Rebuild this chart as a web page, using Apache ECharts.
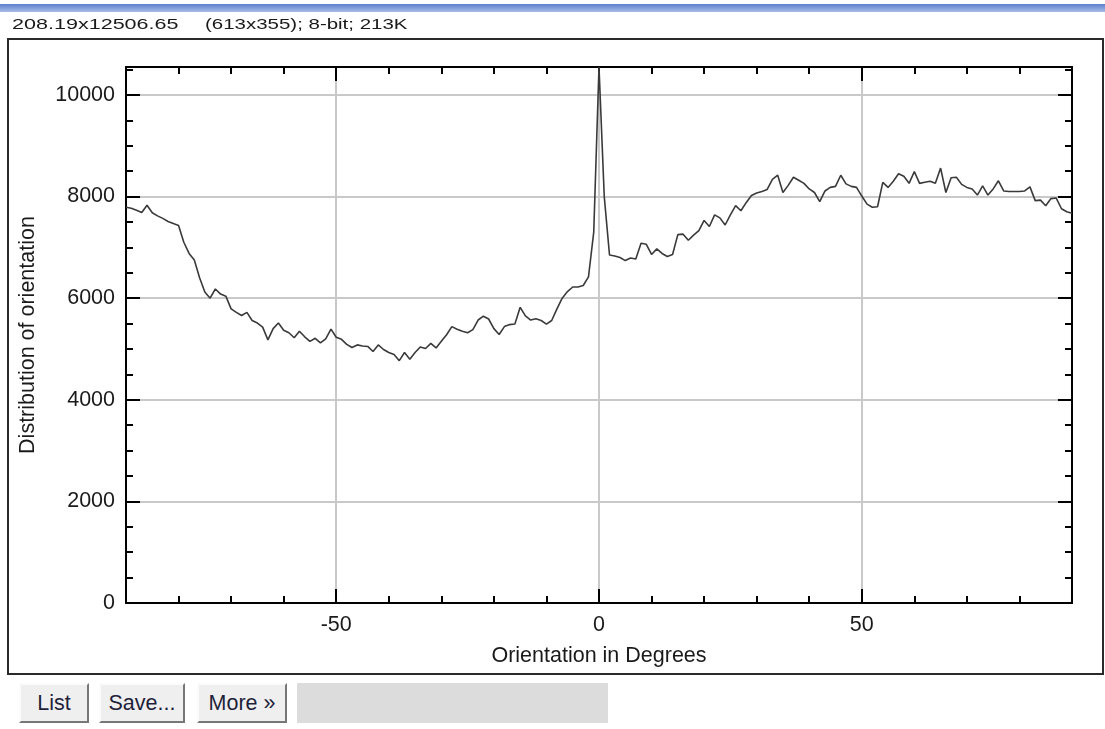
<!DOCTYPE html>
<html>
<head>
<meta charset="utf-8">
<script src="https://cdn.jsdelivr.net/npm/echarts@6/dist/echarts.min.js"></script>
<style>
html,body{margin:0;padding:0;background:#fff;width:1105px;height:729px;overflow:hidden;font-family:"Liberation Sans",Arial,sans-serif;}
#chart{position:absolute;left:0;top:0;width:1105px;height:729px;}
#bar{position:absolute;left:0;top:4px;width:1105px;height:8px;background:linear-gradient(#5c7fcf,#a9bce6);}
.info{position:absolute;top:15px;font-size:15.5px;line-height:18px;color:#1a1a1a;transform-origin:left center;white-space:pre;}
.btn{position:absolute;top:683px;height:40px;box-sizing:border-box;background:#efefef;border-top:2px solid #fbfbfb;border-left:2px solid #fbfbfb;border-right:2px solid #777;border-bottom:2px solid #777;font-size:21.5px;color:#1f1f3a;text-align:center;line-height:36px;}
#gray{position:absolute;top:683px;left:297px;width:311px;height:40px;background:#dcdcdc;}
</style>
</head>
<body>
<div id="chart"></div>
<div id="bar"></div>
<div class="info" style="left:12px;transform:scaleX(1.39)">208.19x12506.65</div>
<div class="info" style="left:205px;transform:scaleX(1.32)">(613x355); 8-bit; 213K</div>
<div class="btn" style="left:19px;width:70px">List</div>
<div class="btn" style="left:99px;width:86px">Save...</div>
<div class="btn" style="left:197px;width:90px">More »</div>
<div id="gray"></div>
<script>
// Orientation bins (degrees)
const degrees = [
 -90,-89,-88,-87,-86,-85,-84,-83,-82,-81,
 -80,-79,-78,-77,-76,-75,-74,-73,-72,-71,
 -70,-69,-68,-67,-66,-65,-64,-63,-62,-61,
 -60,-59,-58,-57,-56,-55,-54,-53,-52,-51,
 -50,-49,-48,-47,-46,-45,-44,-43,-42,-41,
 -40,-39,-38,-37,-36,-35,-34,-33,-32,-31,
 -30,-29,-28,-27,-26,-25,-24,-23,-22,-21,
 -20,-19,-18,-17,-16,-15,-14,-13,-12,-11,
 -10,-9,-8,-7,-6,-5,-4,-3,-2,-1,
 0,1,2,3,4,5,6,7,8,9,
 10,11,12,13,14,15,16,17,18,19,
 20,21,22,23,24,25,26,27,28,29,
 30,31,32,33,34,35,36,37,38,39,
 40,41,42,43,44,45,46,47,48,49,
 50,51,52,53,54,55,56,57,58,59,
 60,61,62,63,64,65,66,67,68,69,
 70,71,72,73,74,75,76,77,78,79,
 80,81,82,83,84,85,86,87,88,89,
 90
];
// Distribution of orientation
const distribution = [
 7790,7770,7730,7685,7830,7680,7620,7570,7510,7470,
 7430,7100,6880,6750,6400,6120,6000,6180,6080,6040,
 5790,5720,5660,5720,5560,5510,5430,5180,5400,5510,
 5370,5320,5220,5350,5240,5150,5210,5120,5200,5390,
 5230,5190,5090,5030,5080,5060,5050,4950,5080,4990,
 4930,4890,4770,4930,4800,4930,5040,5010,5110,5020,
 5150,5280,5440,5390,5350,5320,5380,5570,5645,5590,
 5400,5285,5440,5480,5490,5820,5650,5570,5595,5560,
 5490,5560,5790,6000,6130,6220,6220,6250,6420,7300,
 10550,8000,6850,6830,6800,6740,6790,6770,7080,7060,
 6860,6970,6880,6820,6860,7250,7260,7140,7240,7330,
 7530,7410,7640,7580,7440,7640,7820,7720,7880,8020,
 8070,8100,8140,8340,8420,8080,8220,8380,8320,8260,
 8150,8080,7900,8110,8180,8200,8420,8250,8200,8180,
 8010,7850,7790,7800,8280,8180,8300,8450,8400,8260,
 8490,8260,8280,8300,8260,8560,8080,8370,8380,8240,
 8180,8150,8030,8210,8030,8150,8310,8110,8100,8100,
 8100,8110,8190,7920,7930,7820,7960,7970,7760,7700,
 7670
];
const xLabelValues = [-50, 0, 50];
const yLabelValues = [0, 2000, 4000, 6000, 8000, 10000];
const xTitle = 'Orientation in Degrees';
const yTitle = 'Distribution of orientation';

const FONT = 'Liberation Sans';
const plain = (v) => String(v);
const axisLineStyle = {show: true, onZero: false, lineStyle: {color: '#000', width: 2}};
const minorTick = {show: true, inside: true, length: 7, lineStyle: {color: '#000', width: 2}};
const majorTick = (vals) => ({show: true, inside: true, length: 14, customValues: vals, lineStyle: {color: '#000', width: 2}});
const grayGrid = {show: true, lineStyle: {color: '#c9c9c9', width: 2}};
const X = {type: 'value', min: -90, max: 90};
const Y = {type: 'value', min: 0, max: 10550};

const chart = echarts.init(document.getElementById('chart'), null, {renderer: 'canvas'});
chart.setOption({
  animation: false,
  backgroundColor: '#fff',
  grid: {left: 126, right: 33, top: 67, bottom: 126, containLabel: false},
  graphic: [{
    type: 'rect', silent: true, z: -10,
    shape: {x: 8, y: 39, width: 1095, height: 635},
    style: {fill: 'none', stroke: '#2a2a2a', lineWidth: 2}
  }],
  xAxis: [
    Object.assign({}, X, {
      position: 'bottom', interval: 10,
      axisLine: axisLineStyle, axisTick: minorTick, splitLine: {show: false},
      axisLabel: {show: true, customValues: xLabelValues, formatter: plain, margin: 11, color: '#1a1a1a', fontFamily: FONT, fontSize: 21.5},
      name: xTitle, nameLocation: 'middle', nameGap: 42,
      nameTextStyle: {color: '#1a1a1a', fontFamily: FONT, fontSize: 21.5}
    }),
    Object.assign({}, X, {
      position: 'bottom', axisLine: {show: false, onZero: false},
      axisTick: majorTick(xLabelValues), axisLabel: {show: false}, splitLine: grayGrid
    }),
    Object.assign({}, X, {
      position: 'top', interval: 10,
      axisLine: axisLineStyle, axisTick: minorTick, axisLabel: {show: false}, splitLine: {show: false}
    }),
    Object.assign({}, X, {
      position: 'top', axisLine: {show: false, onZero: false},
      axisTick: majorTick(xLabelValues), axisLabel: {show: false}, splitLine: {show: false}
    })
  ],
  yAxis: [
    Object.assign({}, Y, {
      position: 'left', interval: 500,
      axisLine: axisLineStyle, axisTick: minorTick, splitLine: {show: false},
      axisLabel: {show: true, customValues: yLabelValues, formatter: plain, margin: 11, color: '#1a1a1a', fontFamily: FONT, fontSize: 21.5},
      name: yTitle, nameLocation: 'middle', nameGap: 87, nameRotate: 90,
      nameTextStyle: {color: '#1a1a1a', fontFamily: FONT, fontSize: 21.5}
    }),
    Object.assign({}, Y, {
      position: 'left', axisLine: {show: false, onZero: false},
      axisTick: majorTick(yLabelValues), axisLabel: {show: false}, splitLine: grayGrid
    }),
    Object.assign({}, Y, {
      position: 'right', interval: 500,
      axisLine: axisLineStyle, axisTick: minorTick, axisLabel: {show: false}, splitLine: {show: false}
    }),
    Object.assign({}, Y, {
      position: 'right', axisLine: {show: false, onZero: false},
      axisTick: majorTick(yLabelValues), axisLabel: {show: false}, splitLine: {show: false}
    })
  ],
  series: [{
    type: 'line',
    xAxisIndex: 0, yAxisIndex: 0,
    data: degrees.map((d, i) => [d, distribution[i]]),
    showSymbol: false, symbol: 'none',
    lineStyle: {color: '#3a3a3a', width: 1.6},
    clip: true, z: 5
  }]
});
</script>
</body>
</html>
